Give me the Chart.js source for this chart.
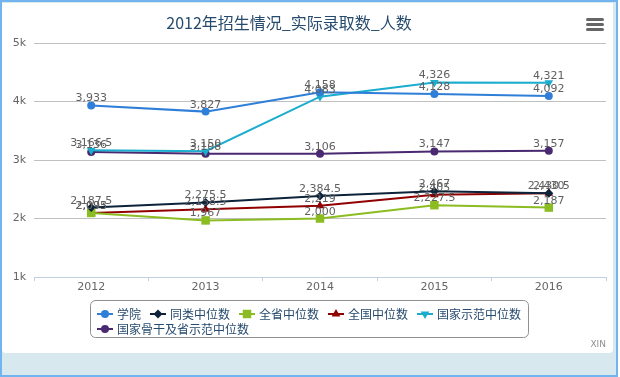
<!DOCTYPE html>
<html>
<head>
<meta charset="utf-8">
<script src="https://cdn.jsdelivr.net/npm/chart.js@4/dist/chart.umd.min.js"></script>
<style>
  html, body { margin: 0; padding: 0; background: #fff; }
  #frame {
    position: absolute; left: 0; top: 0;
    width: 614px; height: 373px;
    border: 2px solid #72b4ee;
    background: #d7e9ee;
  }
  #card {
    position: absolute; left: 0; top: 1px;
    width: 611px; height: 350px;
    background: #fff;
    border-radius: 0 0 4px 4px;
  }
  #chart { position: absolute; left: 0; top: 0; }
</style>
</head>
<body>
<div id="frame"><div id="card"></div></div>
<canvas id="chart" width="620" height="377"></canvas>
<script>
/* 2012年招生情况 — 实际录取数（人数） */

const years = ['2012', '2013', '2014', '2015', '2016'];
const seriesNames = ['学院', '同类中位数', '全省中位数', '全国中位数', '国家示范中位数', '国家骨干及省示范中位数'];
const xueyuan = [3933, 3827, 4158, 4128, 4092];
const tonglei = [2187.5, 2275.5, 2384.5, 2467, 2430.5];
const quansheng = [2095, 1967, 2000, 2227.5, 2187];
const quanguo = [2093, 2158.5, 2219, 2405, 2430];
const guojiaShifan = [3166.5, 3150, 4083, 4326, 4321];
const guganShifan = [3136, 3108, 3106, 3147, 3157];
const yTicks = [1000, 2000, 3000, 4000, 5000];

const TITLE = '2012年招生情况_实际录取数_人数';
const CREDITS = 'XIN';

// Highcharts 3 default palette + marker symbols
const COLORS = ['#2f7ed8', '#0d233a', '#8bbc21', '#910000', '#1aadce', '#492970'];
const MARKERS = [
  { style: 'circle', radius: 4, rotation: 0 },
  { style: 'rectRot', radius: 4.5, rotation: 0 },
  { style: 'rect', radius: 6, rotation: 0 },
  { style: 'triangle', radius: 5, rotation: 0 },
  { style: 'triangle', radius: 5, rotation: 180 },
  { style: 'circle', radius: 4, rotation: 0 },
];

const FONT = '"DejaVu Sans", "Noto Sans CJK SC", sans-serif';
const CJK_FONT = '"Noto Sans CJK SC", "DejaVu Sans", sans-serif';

Chart.defaults.font.family = FONT;

const allValues = [xueyuan, tonglei, quansheng, quanguo, guojiaShifan, guganShifan];

const datasets = allValues.map((vals, i) => ({
  label: seriesNames[i],
  data: vals,
  borderColor: COLORS[i],
  backgroundColor: COLORS[i],
  borderWidth: 2,
  tension: 0,
  pointStyle: MARKERS[i].style,
  pointRadius: MARKERS[i].radius,
  pointRotation: MARKERS[i].rotation,
  pointBorderWidth: 0,
  pointBackgroundColor: COLORS[i],
}));

/* same geometry as Chart.js drawPoint, for the legend symbols */
function drawMarker(ctx, m, x, y, color) {
  const r = m.radius;
  let rad = (m.rotation || 0) * Math.PI / 180;
  ctx.save();
  ctx.fillStyle = color;
  ctx.beginPath();
  if (m.style === 'circle') {
    ctx.arc(x, y, r, 0, Math.PI * 2);
  } else if (m.style === 'rect') {
    const s = Math.SQRT1_2 * r;
    ctx.rect(x - s, y - s, 2 * s, 2 * s);
  } else if (m.style === 'rectRot') {
    ctx.moveTo(x, y - r);
    ctx.lineTo(x + r, y);
    ctx.lineTo(x, y + r);
    ctx.lineTo(x - r, y);
  } else if (m.style === 'triangle') {
    for (let k = 0; k < 3; k++) {
      const px = x + Math.sin(rad) * r;
      const py = y - Math.cos(rad) * r;
      if (k === 0) ctx.moveTo(px, py); else ctx.lineTo(px, py);
      rad += Math.PI * 2 / 3;
    }
  }
  ctx.closePath();
  ctx.fill();
  ctx.restore();
}

function roundRect(ctx, x, y, w, h, r) {
  ctx.beginPath();
  ctx.moveTo(x + r, y);
  ctx.lineTo(x + w - r, y);
  ctx.arcTo(x + w, y, x + w, y + r, r);
  ctx.lineTo(x + w, y + h - r);
  ctx.arcTo(x + w, y + h, x + w - r, y + h, r);
  ctx.lineTo(x + r, y + h);
  ctx.arcTo(x, y + h, x, y + h - r, r);
  ctx.lineTo(x, y + r);
  ctx.arcTo(x, y, x + r, y, r);
  ctx.closePath();
}

const decorPlugin = {
  id: 'decor',
  afterDatasetsDraw(chart) {
    const ctx = chart.ctx;
    // data labels above each point
    ctx.save();
    ctx.font = '11px ' + FONT;
    ctx.fillStyle = '#606060';
    ctx.textAlign = 'center';
    ctx.textBaseline = 'alphabetic';
    chart.data.datasets.forEach((ds, i) => {
      const meta = chart.getDatasetMeta(i);
      meta.data.forEach((pt, j) => {
        const txt = ds.data[j].toLocaleString('en-US');
        ctx.fillText(txt, pt.x, pt.y - 4);
      });
    });
    ctx.restore();
  },
  afterDraw(chart) {
    const ctx = chart.ctx;
    ctx.save();

    // title
    ctx.font = '16px ' + CJK_FONT;
    ctx.fillStyle = '#274b6d';
    ctx.textAlign = 'center';
    ctx.textBaseline = 'middle';
    ctx.fillText(TITLE, 289, 23);

    // export menu icon
    ctx.strokeStyle = '#666';
    ctx.lineWidth = 3;
    ctx.lineCap = 'round';
    [19.5, 24.5, 29.5].forEach(y => {
      ctx.beginPath();
      ctx.moveTo(587.5, y);
      ctx.lineTo(602.5, y);
      ctx.stroke();
    });

    // legend box
    ctx.lineWidth = 1;
    ctx.strokeStyle = '#909090';
    roundRect(ctx, 90.5, 300.5, 438, 37, 5);
    ctx.stroke();

    ctx.font = '12px ' + CJK_FONT;
    ctx.textAlign = 'left';
    ctx.textBaseline = 'middle';
    let x = 97, y = 314;
    chart.data.datasets.forEach((ds, i) => {
      const tw = ctx.measureText(ds.label).width;
      if (x + 20 + tw > 526) { x = 97; y += 15; }
      ctx.strokeStyle = COLORS[i];
      ctx.lineWidth = 2;
      ctx.lineCap = 'butt';
      ctx.beginPath();
      ctx.moveTo(x, y);
      ctx.lineTo(x + 16, y);
      ctx.stroke();
      drawMarker(ctx, MARKERS[i], x + 8, y, COLORS[i]);
      ctx.fillStyle = '#274b6d';
      ctx.fillText(ds.label, x + 20, y);
      x += 20 + tw + 9;
    });

    // credits
    ctx.font = '9px ' + FONT;
    ctx.fillStyle = '#909090';
    ctx.textAlign = 'right';
    ctx.textBaseline = 'alphabetic';
    ctx.fillText(CREDITS, 606, 347);

    ctx.restore();
  }
};

new Chart(document.getElementById('chart'), {
  type: 'line',
  data: { labels: years, datasets },
  options: {
    responsive: false,
    animation: false,
    events: [],
    layout: { padding: { top: 43, right: 14, bottom: 70, left: 0 } },
    plugins: {
      legend: { display: false },
      title: { display: false },
      tooltip: { enabled: false },
    },
    scales: {
      x: {
        type: 'category',
        offset: true,
        grid: {
          offset: true,
          drawOnChartArea: false,
          drawTicks: true,
          tickLength: 4,
          color: '#C0D0E0',
        },
        border: { color: '#C0D0E0', width: 1 },
        ticks: { color: '#666', font: { size: 11 }, padding: 0, maxRotation: 0 },
        afterFit: (scale) => { scale.height = 30; },
      },
      y: {
        min: yTicks[0],
        max: yTicks[yTicks.length - 1],
        afterBuildTicks: (scale) => { scale.ticks = yTicks.map(v => ({ value: v })); },
        grid: {
          drawTicks: false,
          color: (c) => (c.tick && c.tick.value === yTicks[0]) ? 'rgba(0,0,0,0)' : '#C0C0C0',
        },
        border: { display: false },
        ticks: {
          color: '#666',
          font: { size: 11 },
          padding: 8,
          callback: (v) => (v / 1000) + 'k',
        },
        afterFit: (scale) => { scale.width = 34; },
      },
    },
  },
  plugins: [decorPlugin],
});
</script>
</body>
</html>
